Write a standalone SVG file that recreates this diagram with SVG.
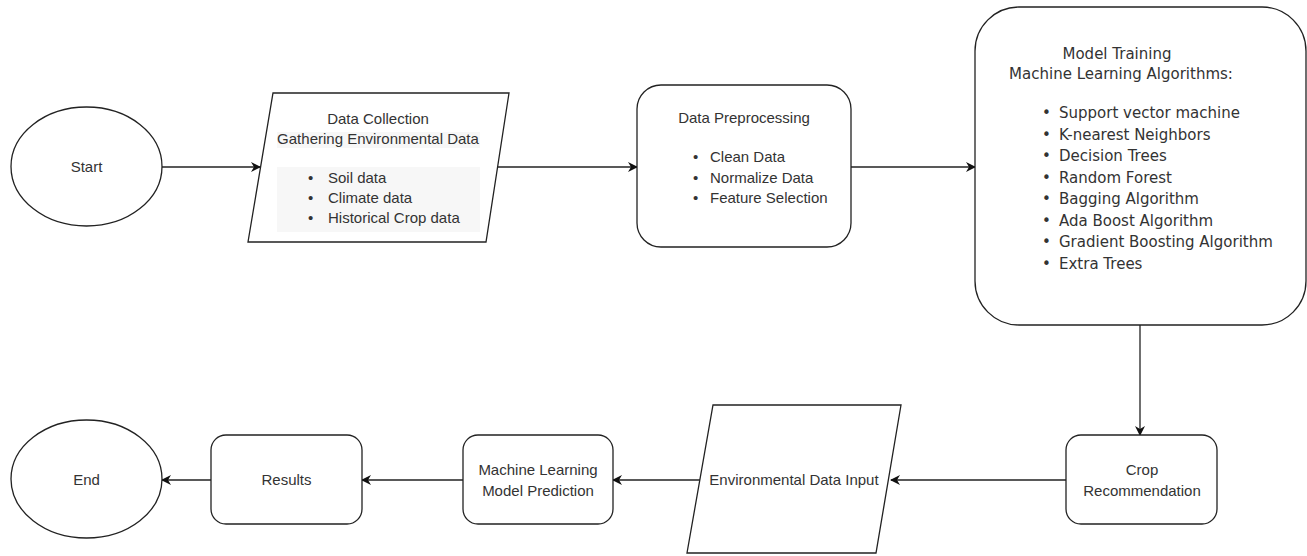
<svg xmlns="http://www.w3.org/2000/svg" width="1307" height="556" viewBox="0 0 1307 556">
<defs>
<marker id="arr" viewBox="0 0 10 10" refX="9" refY="5" markerWidth="10" markerHeight="10" markerUnits="userSpaceOnUse" orient="auto">
<path d="M0,0 L10,5 L0,10 L3,5 Z" fill="#111"/>
</marker>
</defs>
<style>
.shape{fill:#fff;stroke:#222;stroke-width:1.3}
.t{font-family:"Liberation Sans",Arial,sans-serif;font-size:15px;fill:#333}
.d{font-family:"DejaVu Sans",sans-serif;font-size:15px;fill:#333}
.m{text-anchor:middle}
.edge{fill:none;stroke:#222;stroke-width:1.3;marker-end:url(#arr)}
.hl{fill:#f7f7f7}
</style>
<g id="edges">
<line class="edge" x1="162" y1="167" x2="260" y2="167"/>
<line class="edge" x1="498" y1="167" x2="637" y2="167"/>
<line class="edge" x1="851" y1="167" x2="975" y2="167"/>
<line class="edge" x1="1140" y1="325" x2="1140" y2="435"/>
<line class="edge" x1="1066" y1="480" x2="891" y2="480"/>
<line class="edge" x1="700" y1="480" x2="613" y2="480"/>
<line class="edge" x1="463" y1="480" x2="362" y2="480"/>
<line class="edge" x1="211" y1="480" x2="162" y2="480"/>
</g>
<g id="start">
<ellipse class="shape" cx="86.5" cy="166.5" rx="75.5" ry="59.5"/>
<text class="t m" x="86.5" y="172">Start</text>
</g>
<g id="data-collection">
<polygon class="shape" points="273,93 509,93 486,242 248,242"/>
<rect class="hl" x="277" y="132" width="203" height="16"/>
<rect class="hl" x="277" y="167" width="203" height="65"/>
<text class="t m" x="378" y="124">Data Collection</text>
<text class="t m" x="378" y="144">Gathering Environmental Data</text>
<text class="t" x="308" y="183">•</text><text class="t" x="328" y="183">Soil data</text>
<text class="t" x="308" y="203">•</text><text class="t" x="328" y="203">Climate data</text>
<text class="t" x="308" y="223">•</text><text class="t" x="328" y="223">Historical Crop data</text>
</g>
<g id="data-preprocessing">
<rect class="shape" x="637" y="85" width="214" height="162" rx="24"/>
<text class="t m" x="744" y="123">Data Preprocessing</text>
<text class="t" x="693" y="162">•</text><text class="t" x="710" y="162">Clean Data</text>
<text class="t" x="693" y="183">•</text><text class="t" x="710" y="183">Normalize Data</text>
<text class="t" x="693" y="203">•</text><text class="t" x="710" y="203">Feature Selection</text>
</g>
<g id="model-training">
<rect class="shape" x="975" y="7" width="331" height="318" rx="44"/>
<text class="d m" x="1117" y="59">Model Training</text>
<text class="d m" x="1121" y="79">Machine Learning Algorithms:</text>
<text class="d" x="1042" y="118">•</text><text class="d" x="1059" y="118">Support vector machine</text>
<text class="d" x="1042" y="139.5">•</text><text class="d" x="1059" y="139.5">K-nearest Neighbors</text>
<text class="d" x="1042" y="161">•</text><text class="d" x="1059" y="161">Decision Trees</text>
<text class="d" x="1042" y="182.5">•</text><text class="d" x="1059" y="182.5">Random Forest</text>
<text class="d" x="1042" y="204">•</text><text class="d" x="1059" y="204">Bagging Algorithm</text>
<text class="d" x="1042" y="225.5">•</text><text class="d" x="1059" y="225.5">Ada Boost Algorithm</text>
<text class="d" x="1042" y="247">•</text><text class="d" x="1059" y="247">Gradient Boosting Algorithm</text>
<text class="d" x="1042" y="268.5">•</text><text class="d" x="1059" y="268.5">Extra Trees</text>
</g>
<g id="crop-recommendation">
<rect class="shape" x="1066" y="435" width="151" height="89" rx="15"/>
<text class="t m" x="1142" y="475">Crop</text>
<text class="t m" x="1142" y="496">Recommendation</text>
</g>
<g id="environmental-data-input">
<polygon class="shape" points="713,405 901,405 876,553 687,553"/>
<text class="t m" x="794" y="485">Environmental Data Input</text>
</g>
<g id="ml-prediction">
<rect class="shape" x="463" y="435" width="150" height="89" rx="15"/>
<text class="t m" x="538" y="475">Machine Learning</text>
<text class="t m" x="538" y="496">Model Prediction</text>
</g>
<g id="results">
<rect class="shape" x="211" y="435" width="151" height="89" rx="15"/>
<text class="t m" x="286.5" y="485">Results</text>
</g>
<g id="end">
<ellipse class="shape" cx="86.5" cy="479" rx="75.5" ry="59"/>
<text class="t m" x="86.5" y="485">End</text>
</g>
</svg>
